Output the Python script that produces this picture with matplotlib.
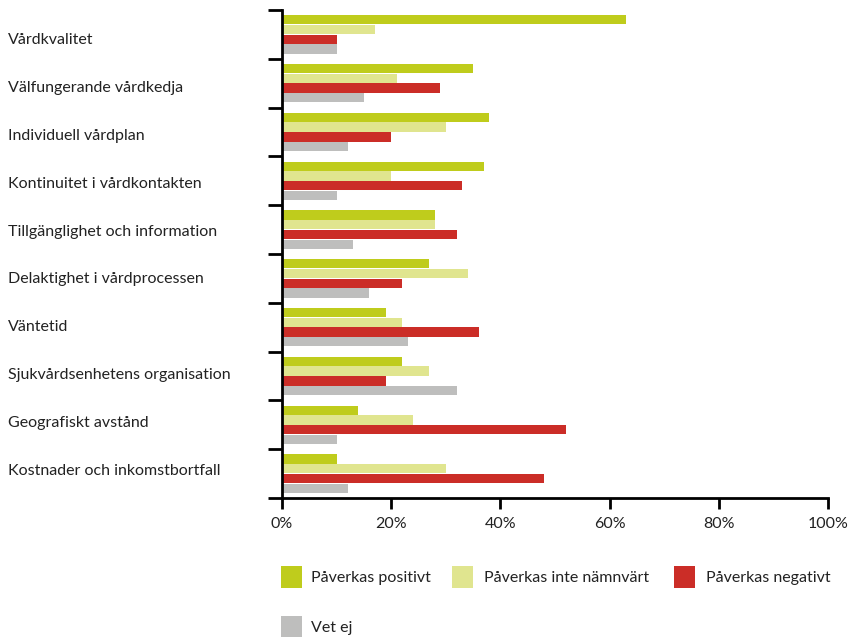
import matplotlib
matplotlib.use("Agg")
import matplotlib.pyplot as plt
from matplotlib.patches import Rectangle
import numpy as np

categories = [
    "Vårdkvalitet",
    "Välfungerande vårdkedja",
    "Individuell vårdplan",
    "Kontinuitet i vårdkontakten",
    "Tillgänglighet och information",
    "Delaktighet i vårdprocessen",
    "Väntetid",
    "Sjukvårdsenhetens organisation",
    "Geografiskt avstånd",
    "Kostnader och inkomstbortfall",
]
series_names = ["Påverkas positivt", "Påverkas inte nämnvärt", "Påverkas negativt", "Vet ej"]
positivt = [63, 35, 38, 37, 28, 27, 19, 22, 14, 10]
inte_namnvart = [17, 21, 30, 20, 28, 34, 22, 27, 24, 30]
negativt = [10, 29, 20, 33, 32, 22, 36, 19, 52, 48]
vet_ej = [10, 15, 12, 10, 13, 16, 23, 32, 10, 12]
x_ticks = [0, 20, 40, 60, 80, 100]
x_tick_labels = ["0%", "20%", "40%", "60%", "80%", "100%"]

colors = ["#BFCC1C", "#E0E58F", "#CB2D27", "#BEBEBD"]
series = [positivt, inte_namnvart, negativt, vet_ej]

plt.rcParams["font.family"] = ["Lato", "DejaVu Sans"]
W, H = 853, 637
fig = plt.figure(figsize=(W / 100, H / 100), dpi=100)
ax = fig.add_axes([282 / W, 1 - 498 / H, (828 - 282) / W, (498 - 10) / H])

y = np.arange(len(categories))
offsets = [-0.3, -0.1, 0.1, 0.3]
for vals, col, off in zip(series, colors, offsets):
    ax.barh(y + off, vals, height=0.19, color=col, edgecolor="none")

ax.set_xlim(0, 100)
ax.set_ylim(len(categories) - 0.5, -0.5)

for s in ["top", "right"]:
    ax.spines[s].set_visible(False)
ax.spines["left"].set_linewidth(2)
ax.spines["bottom"].set_linewidth(2)

ax.set_xticks(x_ticks)
ax.set_xticklabels(x_tick_labels, fontsize=11.5, color="#222222")
ax.tick_params(axis="x", length=8, width=2, pad=6)

ax.set_yticks(np.arange(-0.5, len(categories), 1.0))
ax.set_yticklabels([])
ax.tick_params(axis="y", length=10, width=2)

# category labels, left-aligned at the figure's left edge
for i, name in enumerate(categories):
    fig.text(8 / W, 1 - (40 + 47.9 * i) / H, name, fontsize=11.5, color="#222222",
             ha="left", va="center")

# legend drawn as squares with labels
legend_pos = [(281, 566), (452, 566), (674, 566), (281, 616)]
text_x = [311, 484, 706, 311]
for (lx, ly), tx, col, name in zip(legend_pos, text_x, colors, series_names):
    fig.add_artist(Rectangle((lx / W, 1 - (ly + 22) / H), 21 / W, 22 / H,
                             transform=fig.transFigure, color=col, lw=0))
    fig.text(tx / W, 1 - (ly + 12) / H, name, fontsize=11.5, color="#222222",
             ha="left", va="center")

fig.savefig("out.png", dpi=100)
